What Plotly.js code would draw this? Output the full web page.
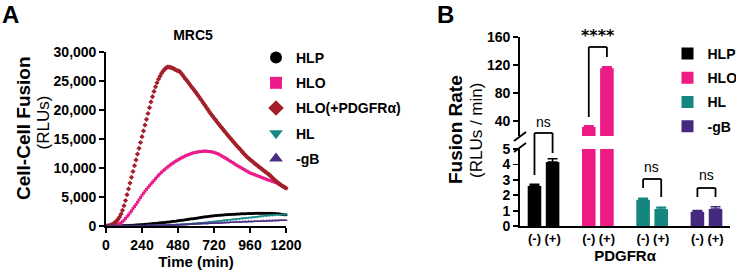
<!DOCTYPE html>
<html><head><meta charset="utf-8">
<script src="https://cdn.plot.ly/plotly-3.0.1.min.js"></script>
<style>html,body{margin:0;padding:0;background:#fff}#chart{width:736px;height:272px}</style>
</head><body><div id="chart"></div>
<script>
// ---------- Panel A data (RLUs every 10 min) ----------
const timeMin = [0,10,20,30,40,50,60,70,80,90,100,110,120,130,140,150,160,170,180,190,200,210,220,230,240,250,260,270,280,290,300,310,320,330,340,350,360,370,380,390,400,410,420,430,440,450,460,470,480,490,500,510,520,530,540,550,560,570,580,590,600,610,620,630,640,650,660,670,680,690,700,710,720,730,740,750,760,770,780,790,800,810,820,830,840,850,860,870,880,890,900,910,920,930,940,950,960,970,980,990,1000,1010,1020,1030,1040,1050,1060,1070,1080,1090,1100,1110,1120,1130,1140,1150,1160,1170,1180,1190,1200];
const hlp = [0,0,0,5,10,15,20,25,30,40,50,
 60,70,80,90,100,115,130,145,160,180,
 195,210,230,250,270,290,315,340,365,390,
 415,440,465,490,515,540,565,590,620,650,
 680,710,740,770,800,835,870,905,940,975,
 1010,1045,1080,1115,1150,1190,1230,1270,1310,1350,
 1390,1430,1470,1510,1545,1580,1615,1650,1685,1715,
 1745,1775,1800,1825,1850,1870,1890,1910,1930,1950,
 1965,1980,1995,2010,2025,2040,2055,2070,2085,2100,
 2110,2120,2130,2140,2150,2160,2170,2175,2180,2185,
 2190,2195,2200,2200,2200,2200,2195,2190,2185,2180,
 2170,2160,2150,2130,2110,2080,2040,2000,1960,1920];
const hlo = [0,0,10,20,30,50,100,180,280,400,550,
 750,1000,1300,1600,1900,2250,2600,3000,3350,3700,
 4100,4500,4900,5300,5650,6000,6300,6650,6950,7250,
 7550,7850,8150,8450,8750,9000,9250,9500,9700,9950,
 10150,10350,10550,10750,10900,11100,11250,11400,11550,11700,
 11850,11950,12100,12200,12300,12400,12500,12600,12650,12700,
 12750,12800,12850,12850,12900,12900,12900,12850,12850,12800,
 12750,12700,12600,12500,12400,12250,12100,11950,11800,11650,
 11500,11300,11150,11000,10850,10650,10500,10350,10200,10050,
 9900,9750,9600,9450,9300,9150,9050,8950,8850,8750,
 8650,8550,8450,8350,8250,8150,8050,7950,7850,7800,
 7700,7600,7500,7400,7250,7100,6950,6800,6650,6450];
const hloPdgfra = [0,30,80,150,250,400,600,850,1150,1550,2050,
 2700,3500,4400,5400,6400,7400,8400,9400,10400,11400,
 12400,13400,14400,15400,16400,17400,18400,19400,20400,21400,
 22300,23200,24000,24700,25300,25800,26300,26700,27000,27250,
 27400,27400,27350,27250,27150,27000,26850,26750,26650,26400,
 26050,25700,25350,25050,24700,24350,24000,23700,23350,23000,
 22650,22300,21900,21550,21150,20800,20400,20050,19650,19300,
 18950,18600,18300,17950,17650,17300,17000,16700,16350,16050,
 15700,15400,15100,14800,14500,14200,13900,13600,13350,13050,
 12750,12450,12200,11900,11700,11450,11250,11050,10800,10600,
 10400,10200,10000,9800,9600,9400,9200,9000,8800,8550,
 8300,8050,7800,7600,7400,7200,7000,6850,6700,6550];
const hl = [0,0,0,0,5,5,10,10,15,15,20,
 20,25,25,30,30,35,35,40,40,45,
 45,50,50,55,55,60,60,65,70,75,
 80,85,90,95,100,105,110,120,130,140,
 150,160,170,180,190,200,215,230,245,260,
 275,290,310,330,350,370,390,410,430,450,
 475,500,525,550,575,600,625,650,675,700,
 730,760,790,820,850,880,910,940,970,1000,
 1030,1060,1090,1120,1150,1180,1210,1240,1270,1300,
 1325,1350,1375,1400,1425,1450,1480,1510,1540,1570,
 1600,1630,1660,1690,1720,1750,1780,1800,1820,1840,
 1860,1880,1900,1920,1935,1950,1960,1970,1975,1980];
const gB = [0,0,0,0,5,5,5,10,10,10,15,
 15,20,20,25,25,30,30,35,35,40,
 40,45,45,50,55,60,65,70,75,80,
 85,90,95,100,105,110,115,120,125,130,
 140,150,160,170,180,190,200,210,220,230,
 240,250,260,270,285,300,315,330,345,360,
 375,390,400,410,420,430,440,450,460,470,
 480,490,500,510,520,530,545,560,575,590,
 605,620,635,650,660,670,680,690,700,710,
 720,730,740,750,760,770,780,790,800,810,
 820,830,840,850,860,870,880,890,900,910,
 920,930,940,950,960,970,980,990,1000,1010];
const lineNames = ['HLP','HLO','HLO(+PDGFRα)','HL','-gB'];
const timeTicks = [0,240,480,720,960,1200];
const rluTicks = [0,5000,10000,15000,20000,25000,30000];

// ---------- Panel B data (fusion rate, RLUs/min) ----------
const barGroups = ['HLP','HLO','HL','-gB'];
const pdgfraLabels = ['(-)','(+)'];
const rateHLP = [2.6, 4.15];  const errHLP = [0.1, 0.22];
const rateHLO = [31.5, 115.5]; const errHLO = [1.5, 2.0];
const rateHL  = [1.7, 1.1];   const errHL  = [0.1, 0.12];
const rateGB  = [0.92, 1.1];  const errGB  = [0.08, 0.15];
const lowTicks = [0,1,2,3,4,5];
const highTicks = [40,80,120,160];

// ---------- styles ----------
const W = 736, H = 272;
const fx = p => p / W;
const fy = p => (H - p) / H;
const FONT = 'Arial, "Liberation Sans", Helvetica, sans-serif';
const lineColors = ['#000000','#EC1C8C','#A3202A','#178A86','#4A2D84'];
const lineSymbols = ['circle','square','diamond','triangle-down','triangle-up'];
const lineSeries = [hlp, hlo, hloPdgfra, hl, gB];
const barColors = ['#000000','#EE1A86','#15857F','#45297F'];
const barRates = [rateHLP, rateHLO, rateHL, rateGB];
const barErrs = [errHLP, errHLO, errHL, errGB];

const traces = [];
lineSeries.forEach((s, i) => {
  traces.push({
    type: 'scatter', mode: 'markers', x: timeMin, y: s, name: lineNames[i],
    xaxis: 'x', yaxis: 'y', legend: 'legend', legendgroup: 'a' + i,
    cliponaxis: false,
    marker: {symbol: lineSymbols[i], color: lineColors[i], size: i === 2 ? 4 : 3, line: {width: 0}}
  });
});

const catName = (g, l) => g + ' ' + l;
const catArray = [];
barGroups.forEach((g, i) => {
  pdgfraLabels.forEach(l => catArray.push(catName(g, l)));
  if (i < barGroups.length - 1) catArray.push('gap' + i);
});
const realCats = [];
const realText = [];
barGroups.forEach(g => pdgfraLabels.forEach(l => { realCats.push(catName(g, l)); realText.push(l); }));

barGroups.forEach((g, i) => {
  const base = {
    type: 'bar', x: pdgfraLabels.map(l => catName(g, l)), y: barRates[i], name: g,
    width: 0.75, marker: {color: barColors[i], line: {width: 0}},
    error_y: {type: 'data', symmetric: false, array: barErrs[i], arrayminus: [0, 0],
              color: barColors[i], thickness: 1.6, width: 5},
    legendgroup: 'b' + i, legend: 'legend2'
  };
  traces.push(Object.assign({}, base, {xaxis: 'x2', yaxis: 'y2'}));
  traces.push(Object.assign({}, base, {xaxis: 'x2', yaxis: 'y3', showlegend: false}));
});

const axisCommon = {
  showline: true, linecolor: '#000', linewidth: 1.8, showgrid: false, zeroline: false,
  ticks: 'outside', ticklen: 5, tickwidth: 1.8, tickcolor: '#000',
  tickfont: {family: FONT, size: 14, color: '#000', weight: 'bold'}, fixedrange: true
};

const blk = {color: '#000', width: 1.8};
function bracket(c0, c1, yTop, yL, yR) {
  return [
    {type: 'line', xref: 'x2', yref: 'paper', x0: c0, x1: c0, y0: fy(yL), y1: fy(yTop), line: blk},
    {type: 'line', xref: 'x2', yref: 'paper', x0: c0, x1: c1, y0: fy(yTop), y1: fy(yTop), line: blk},
    {type: 'line', xref: 'x2', yref: 'paper', x0: c1, x1: c1, y0: fy(yTop), y1: fy(yR), line: blk}
  ];
}
const shapes = [].concat(
  bracket(realCats[0], realCats[1], 133, 175, 153),
  bracket(realCats[2], realCats[3], 47, 117, 57),
  bracket(realCats[4], realCats[5], 179, 188, 197),
  bracket(realCats[6], realCats[7], 188, 197, 197),
  [
    {type: 'line', xref: 'paper', yref: 'paper', x0: fx(514), x1: fx(526), y0: fy(141), y1: fy(132), line: blk},
    {type: 'line', xref: 'paper', yref: 'paper', x0: fx(514), x1: fx(526), y0: fy(152), y1: fy(143), line: blk}
  ]
);

function note(text, px, py, size, bold, angle, fam, yanchor) {
  return {text: text, xref: 'paper', yref: 'paper', x: fx(px), y: fy(py), xanchor: 'center', yanchor: yanchor || 'middle',
          showarrow: false, textangle: angle || 0, borderpad: 0,
          font: {family: fam || FONT, size: size, color: '#000', weight: bold ? 'bold' : 'normal'}};
}
const annotations = [
  note('A', 10, 0, 24, true, 0, null, 'top'),
  note('B', 445, 0, 24, true, 0, null, 'top'),
  note('Cell-Cell Fusion', 23, 128, 19, true, -90),
  note('(RLUs)', 43.5, 123, 17, false, -90),
  note('Fusion Rate', 455, 130, 19, true, -90),
  note('(RLUs / min)', 476, 131, 17, false, -90),
  note('ns', 543, 122, 14, false),
  note('****', 598, 36, 16, true, 0, '"DejaVu Sans", sans-serif'),
  note('ns', 651, 167, 14, false),
  note('ns', 706, 175, 14, false)
];

const layout = {
  width: W, height: H,
  margin: {l: 0, r: 0, t: 0, b: 0, pad: 0, autoexpand: false},
  paper_bgcolor: '#ffffff', plot_bgcolor: 'rgba(0,0,0,0)',
  font: {family: FONT, color: '#000'},
  barmode: 'overlay', hovermode: false, showlegend: true,
  title: {text: 'MRC5', font: {family: FONT, size: 14, color: '#000', weight: 'bold'},
          xref: 'paper', yref: 'paper', x: fx(193), y: fy(35), xanchor: 'center', yanchor: 'middle'},
  xaxis: Object.assign({}, axisCommon, {
    domain: [fx(106), fx(286)], range: [0, 1200], tickvals: timeTicks, anchor: 'y',
    title: {text: 'Time (min)', font: {family: FONT, size: 15, color: '#000', weight: 'bold'}, standoff: 3}
  }),
  yaxis: Object.assign({}, axisCommon, {
    domain: [fy(226), fy(52)], range: [0, 30000], tickvals: rluTicks, tickformat: ',d', anchor: 'x'
  }),
  xaxis2: Object.assign({}, axisCommon, {
    domain: [fx(520), fx(730)], type: 'category', categoryorder: 'array', categoryarray: catArray,
    range: [-0.8, 10.8], tickvals: realCats, ticktext: realText, ticks: '', anchor: 'y2',
    tickfont: {family: FONT, size: 13, color: '#000', weight: 'bold'},
    title: {text: 'PDGFRα', font: {family: FONT, size: 15, color: '#000', weight: 'bold'}, standoff: 5}
  }),
  yaxis2: Object.assign({}, axisCommon, {
    domain: [fy(226), fy(149)], range: [0, 5], tickvals: lowTicks, anchor: 'x2'
  }),
  yaxis3: Object.assign({}, axisCommon, {
    domain: [fy(136), fy(37)], range: [18.6, 160], tickvals: highTicks, anchor: 'x2'
  }),
  legend: {x: fx(256), y: fy(42), xanchor: 'left', yanchor: 'top', bgcolor: 'rgba(0,0,0,0)',
           font: {family: FONT, size: 14, color: '#000', weight: 'bold'}, itemsizing: 'constant',
           tracegroupgap: 4},
  legend2: {x: fx(667.5), y: fy(38), xanchor: 'left', yanchor: 'top', bgcolor: 'rgba(0,0,0,0)',
           font: {family: FONT, size: 14, color: '#000', weight: 'bold'}, tracegroupgap: 3},
  shapes: shapes,
  annotations: annotations
};

Plotly.newPlot('chart', traces, layout, {staticPlot: true, displayModeBar: false});
</script>
</body></html>
